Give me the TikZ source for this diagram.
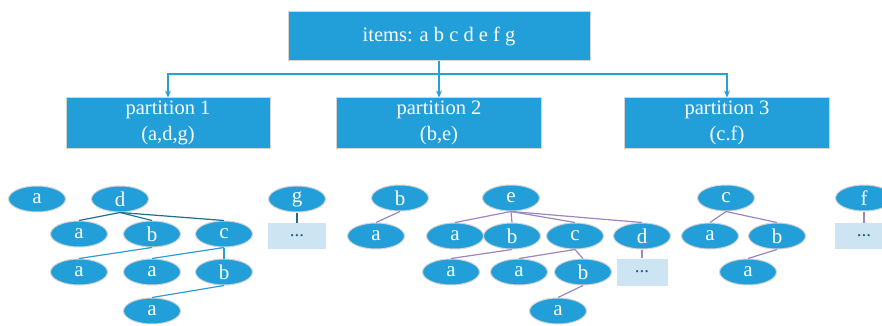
\documentclass[tikz,border=0pt]{standalone}
\usepackage{fontspec}
\setmainfont{Liberation Serif}
\usetikzlibrary{shapes.geometric,arrows.meta}
\definecolor{nodeblue}{HTML}{229FD9}
\definecolor{rimgray}{HTML}{D4D4D4}
\definecolor{darkedge}{HTML}{1F6E8E}
\definecolor{lightedge}{HTML}{2A9FD6}
\definecolor{violetedge}{HTML}{9C86C2}
\definecolor{morefill}{HTML}{CDE5F3}
\definecolor{moretext}{HTML}{1B5F8C}
\tikzset{
  bigbox/.style={draw=rimgray, line width=1pt, fill=nodeblue, text=white,
    inner sep=0pt, align=center, font=\fontsize{20.5}{26}\selectfont},
  item/.style={ellipse, draw=rimgray, line width=1pt, fill=nodeblue, text=white,
    minimum width=57pt, minimum height=26pt, inner sep=0pt,
    font=\fontsize{21}{22}\selectfont},
  morebox/.style={fill=morefill, text=moretext, minimum width=58pt,
    minimum height=26pt, inner sep=0pt, font=\fontsize{19}{20}\selectfont},
  splitarrow/.style={draw=lightedge, line width=1.1pt, -{Stealth[length=7pt,width=6pt]}},
  e1/.style={draw=darkedge, line width=1.2pt},
  e2/.style={draw=lightedge, line width=1.2pt},
  e3/.style={draw=violetedge, line width=1.2pt},
}
\begin{document}
\begin{tikzpicture}[x=1pt,y=-1pt]
\useasboundingbox (0,0) rectangle (882,326);

% source box and the three partitions
\node[bigbox, minimum width=302pt, minimum height=49pt] (items) at (439,36) {items: a b c d e f g};
\node[bigbox, minimum width=204pt, minimum height=50pt] (p1) at (168,123) {partition 1\\(a,d,g)};
\node[bigbox, minimum width=205pt, minimum height=50pt] (p2) at (439,123) {partition 2\\(b,e)};
\node[bigbox, minimum width=205pt, minimum height=50pt] (p3) at (727,123) {partition 3\\(c.f)};

\coordinate (split) at (439,74);
\draw[splitarrow] (items.south) -- (p2.north);
\draw[splitarrow] (split) -| (p1.north);
\draw[splitarrow] (split) -| (p3.north);

% partition 1 trees
\node[item] (a1) at (37,199) {a};
\node[item] (d1) at (120,199) {d};
\node[item] (d1a) at (79,234) {a};
\node[item] (d1b) at (152,234) {b};
\node[item] (d1c) at (224,234) {c};
\node[item] (d1ba) at (79,272) {a};
\node[item] (d1ca) at (152,272) {a};
\node[item] (d1cb) at (224,272) {b};
\node[item] (d1cba) at (152,311) {a};
\node[item] (g1) at (297,199) {g};
\node[morebox] (g1m) at (297,236) {...};

\draw[e1] (d1.south) -- (d1a.north);
\draw[e1] (d1.south) -- (d1b.north);
\draw[e1] (d1.south) -- (d1c.north);
\draw[e1] (g1.south) -- (g1m.north);
\draw[e2] (d1b.south) -- (d1ba.north);
\draw[e2] (d1c.south) -- (d1ca.north);
\draw[e2] (d1c.south) -- (d1cb.north);
\draw[e2] (d1cb.south) -- (d1cba.north);

% partition 2 trees
\node[item] (b2) at (400,198) {b};
\node[item] (b2a) at (376,236) {a};
\node[item] (e2) at (511,198) {e};
\node[item] (e2a) at (455,236) {a};
\node[item] (e2b) at (512,236) {b};
\node[item] (e2c) at (575,236) {c};
\node[item] (e2d) at (642,236) {d};
\node[item] (e2ba) at (451,272) {a};
\node[item] (e2ca) at (519,272) {a};
\node[item] (e2cb) at (583,272) {b};
\node[morebox, minimum width=51pt, minimum height=27pt] (e2dm) at (642,272) {...};
\node[item] (e2cba) at (558,311) {a};

\draw[e3] (b2.south) -- (b2a.north);
\draw[e3] (e2.south) -- (e2a.north);
\draw[e3] (e2.south) -- (e2b.north);
\draw[e3] (e2.south) -- (e2c.north);
\draw[e3] (e2.south) -- (e2d.north);
\draw[e3] (e2b.south) -- (e2ba.north);
\draw[e3] (e2c.south) -- (e2ca.north);
\draw[e3] (e2c.south) -- (e2cb.north);
\draw[e3] (e2d.south) -- (e2dm.north);
\draw[e3] (e2cb.south) -- (e2cba.north);

% partition 3 trees
\node[item] (c3) at (726,198) {c};
\node[item] (c3a) at (710,236) {a};
\node[item] (c3b) at (777,236) {b};
\node[item] (c3ba) at (748,272) {a};
\node[item] (f3) at (864,198) {f};
\node[morebox] (f3m) at (864,236) {...};

\draw[e3] (c3.south) -- (c3a.north);
\draw[e3] (c3.south) -- (c3b.north);
\draw[e3] (c3b.south) -- (c3ba.north);
\draw[e3] (f3.south) -- (f3m.north);
\end{tikzpicture}
\end{document}
